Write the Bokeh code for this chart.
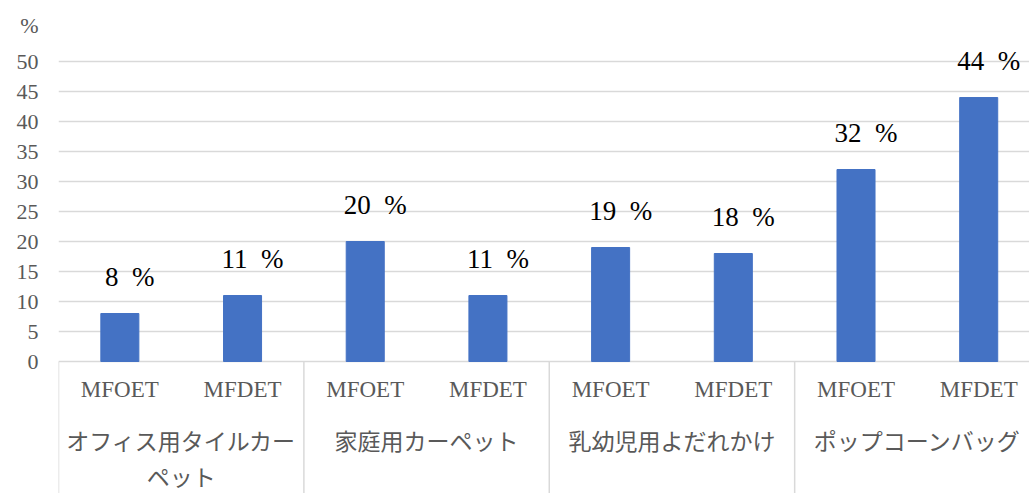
from bokeh.plotting import figure
from bokeh.models import ColumnDataSource, Range1d, FixedTicker
from bokeh.core.properties import value
from bokeh.embed import file_html
from bokeh.resources import INLINE

groups = ["オフィス用タイルカーペット", "家庭用カーペット", "乳幼児用よだれかけ", "ポップコーンバッグ"]
group_lines = [["オフィス用タイルカー", "ペット"], ["家庭用カーペット"], ["乳幼児用よだれかけ"], ["ポップコーンバッグ"]]
methods = ["MFOET", "MFDET"]
values = [8, 11, 20, 11, 19, 18, 32, 44]
y_ticks = [0, 5, 10, 15, 20, 25, 30, 35, 40, 45, 50]
unit = "%"
unit_tick = 56

n_methods = len(methods)
xs = [g * n_methods + m + 0.5 for g in range(len(groups)) for m in range(n_methods)]
sub_labels = [methods[m] for g in range(len(groups)) for m in range(n_methods)]
val_labels = [f"{v}\u00a0\u00a0{unit}" for v in values]

SERIF = value("Liberation Serif")
GREY = "#595959"
Y_BOTTOM = -22.0

p = figure(width=1029, height=493, output_backend="svg", toolbar_location=None,
           x_range=Range1d(0, 7.914), y_range=Range1d(Y_BOTTOM, 60.17),
           x_axis_location=None, min_border_left=58, min_border_right=0,
           min_border_top=0, min_border_bottom=0)
p.outline_line_color = None
p.xgrid.visible = False
p.ygrid.ticker = FixedTicker(ticks=y_ticks)
p.ygrid.grid_line_color = "#d9d9d9"
p.ygrid.grid_line_width = 1.3
p.yaxis.ticker = FixedTicker(ticks=y_ticks + [unit_tick])
p.yaxis.major_label_overrides = {unit_tick: unit}
p.yaxis.axis_line_color = None
p.yaxis.major_tick_line_color = None
p.yaxis.minor_tick_line_color = None
p.yaxis.major_tick_out = 0
p.yaxis.major_label_standoff = 20
p.yaxis.major_label_text_font = "Liberation Serif"
p.yaxis.major_label_text_font_size = "22px"
p.yaxis.major_label_text_color = GREY

src = ColumnDataSource(dict(x=xs, top=values, lab=val_labels, sub=sub_labels))
p.vbar(x="x", top="top", width=0.31, bottom=0, source=src, color="#4472C4")
p.text(x="x", y="top", text="lab", source=src, text_font=SERIF, text_font_size="27px",
       text_color="black", text_align="center", text_baseline="alphabetic",
       x_offset=10, y_offset=-37)

# category axis area
sep_x = [g * n_methods for g in range(len(groups) + 1)]
p.segment(x0=sep_x, x1=sep_x, y0=[0] * len(sep_x), y1=[Y_BOTTOM] * len(sep_x),
          line_color="#d9d9d9", line_width=1.5)
p.text(x=xs, y=[0] * len(xs), text=sub_labels, text_font=SERIF, text_font_size="23px",
       text_color=GREY, text_align="center", text_baseline="middle", y_offset=28)

gx, gt, goff = [], [], []
for g, lines in enumerate(group_lines):
    for i, line in enumerate(lines):
        gx.append(g * n_methods + n_methods / 2)
        gt.append(line)
        goff.append(78 + 36 * i)
gsrc = ColumnDataSource(dict(x=gx, y=[0] * len(gx), t=gt, off=goff))
p.text(x="x", y="y", text="t", y_offset="off", source=gsrc,
       text_font=value("Noto Sans CJK JP"), text_font_size="23px", text_color=GREY,
       text_align="center", text_baseline="middle")

open("out.html", "w").write(file_html(p, INLINE))
